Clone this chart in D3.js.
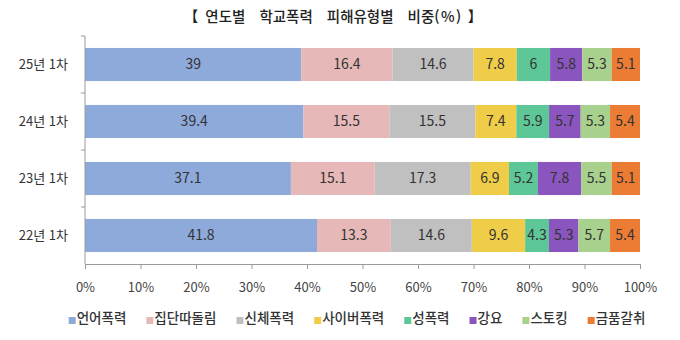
<!DOCTYPE html>
<html lang="ko">
<head>
<meta charset="utf-8">
<script src="https://cdn.jsdelivr.net/npm/d3@7"></script>
<style>
  html, body { margin: 0; padding: 0; background: #fff; }
  svg { display: block; font-family: "Noto Sans CJK KR", "Noto Sans", sans-serif; }
</style>
</head>
<body>
<svg id="chart" width="680" height="340"></svg>
<script>
// Survey rounds, top to bottom
const rounds = ["25년 1차", "24년 1차", "23년 1차", "22년 1차"];

// Violence types, in stacking order
const types = ["언어폭력", "집단따돌림", "신체폭력", "사이버폭력", "성폭력", "강요", "스토킹", "금품갈취"];

// Share (%) of each type per round
const verbal   = [39,   39.4, 37.1, 41.8];
const exclude  = [16.4, 15.5, 15.1, 13.3];
const physical = [14.6, 15.5, 17.3, 14.6];
const cyber    = [7.8,  7.4,  6.9,  9.6];
const sexual   = [6,    5.9,  5.2,  4.3];
const coercion = [5.8,  5.7,  7.8,  5.3];
const stalking = [5.3,  5.3,  5.5,  5.7];
const extort   = [5.1,  5.4,  5.1,  5.4];

const xTicks = [0, 0.1, 0.2, 0.3, 0.4, 0.5, 0.6, 0.7, 0.8, 0.9, 1];

const colors = ["#8eaadb", "#e6b9b8", "#c0c0c0", "#f0cd48", "#5ec797", "#8a55be", "#a9d18e", "#ec7c34"];

const seriesValues = [verbal, exclude, physical, cyber, sexual, coercion, stalking, extort];

// Rows for d3.stack, normalised so each bar fills 100%
const rows = rounds.map((r, i) => {
  const row = { round: r };
  types.forEach((t, k) => { row[t] = seriesValues[k][i]; });
  return row;
});

const stack = d3.stack().keys(types).offset(d3.stackOffsetExpand);
const layers = stack(rows);

const svg = d3.select("#chart");
const plotL = 85, plotR = 640, plotT = 36, plotB = 264;

const x = d3.scaleLinear().domain([0, 1]).range([plotL, plotR]);
const y = d3.scaleBand().domain(rounds).range([plotT, plotB])
  .paddingInner(0.42).paddingOuter(0.21);
const color = d3.scaleOrdinal().domain(types).range(colors);

// Title, wrapped in bold lenticular brackets
const title = svg.append("text")
  .attr("x", 333).attr("y", 22)
  .attr("text-anchor", "middle")
  .attr("font-size", 14.5)
  .attr("font-weight", 500)
  .attr("fill", "#222");
title.append("tspan").text("【");
title.append("tspan").attr("dx", 7).attr("word-spacing", 10)
  .text("연도별 학교폭력 피해유형별 비중");
title.append("tspan").attr("letter-spacing", 1.5).text("(%)");
title.append("tspan").attr("dx", 5).text("】");

// Stacked segments
const g = svg.append("g");
layers.forEach((layer) => {
  const key = layer.key;
  const lg = g.append("g");
  lg.selectAll("rect")
    .data(layer)
    .join("rect")
    .attr("x", d => x(d[0]))
    .attr("y", d => y(d.data.round))
    .attr("width", d => x(d[1]) - x(d[0]))
    .attr("height", y.bandwidth())
    .attr("fill", color(key));
  lg.selectAll("text")
    .data(layer)
    .join("text")
    .attr("x", d => (x(d[0]) + x(d[1])) / 2)
    .attr("y", d => y(d.data.round) + y.bandwidth() / 2)
    .attr("dy", "0.35em")
    .attr("text-anchor", "middle")
    .attr("font-size", 14)
    .attr("fill", "#333")
    .text(d => d.data[key]);
});

const axisColor = "#9a9a9a";

// Category axis: line, boundary ticks and labels
svg.append("line")
  .attr("x1", plotL).attr("x2", plotL)
  .attr("y1", plotT).attr("y2", plotB)
  .attr("stroke", axisColor);
const step = y.step();
d3.range(rounds.length).forEach(i => {
  svg.append("line")
    .attr("x1", plotL - 4).attr("x2", plotL)
    .attr("y1", plotT + i * step).attr("y2", plotT + i * step)
    .attr("stroke", axisColor);
});
svg.selectAll(".ylab")
  .data(rounds)
  .join("text")
  .attr("class", "ylab")
  .attr("x", plotL - 17)
  .attr("y", d => y(d) + y.bandwidth() / 2)
  .attr("dy", "0.35em")
  .attr("text-anchor", "end")
  .attr("font-size", 13)
  .attr("fill", "#333")
  .text(d => d);

// Percentage axis
const xAxis = svg.append("g")
  .attr("transform", `translate(0,${plotB})`)
  .call(d3.axisBottom(x).tickValues(xTicks).tickFormat(d3.format(".0%"))
    .tickSize(5).tickSizeOuter(0).tickPadding(14));
xAxis.select(".domain").attr("stroke", axisColor);
xAxis.selectAll(".tick line").attr("stroke", axisColor);
xAxis.selectAll(".tick text")
  .attr("font-size", 13)
  .attr("fill", "#444")
  .attr("font-family", "\"Noto Sans CJK KR\", sans-serif");

// Legend
const legend = svg.append("g");
const items = legend.selectAll("g").data(types).join("g");
items.append("rect")
  .attr("width", 7).attr("height", 7)
  .attr("y", -6)
  .attr("fill", d => color(d));
items.append("text")
  .attr("x", 8)
  .attr("font-size", 13.5)
  .attr("font-weight", 500)
  .attr("fill", "#333")
  .text(d => d);
const gap = 20;
let cx = 0;
items.each(function () {
  const w = this.getBBox().width;
  d3.select(this).attr("transform", `translate(${cx},0)`);
  cx += w + gap;
});
const totalW = cx - gap;
legend.attr("transform", `translate(${357 - totalW / 2},323)`);
</script>
</body>
</html>
